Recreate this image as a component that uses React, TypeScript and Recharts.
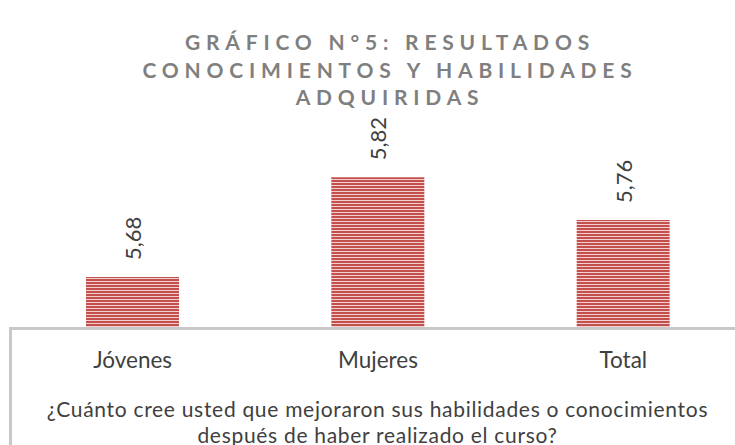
import { BarChart, Bar, XAxis, YAxis, LabelList } from 'recharts'

const categories = ['Jóvenes', 'Mujeres', 'Total']
const scores = [5.68, 5.82, 5.76]
const titleLines = ['GRÁFICO N°5: RESULTADOS', 'CONOCIMIENTOS Y HABILIDADES', 'ADQUIRIDAS']
const axisTitle = [
  '¿Cuánto cree usted que mejoraron sus habilidades o conocimientos',
  'después de haber realizado el curso?'
]

const data = categories.map((name, i) => ({ name, value: scores[i] }))

const FONT = 'Lato, sans-serif'

function ValueLabel(props: any) {
  const { x, y, width, value } = props
  const cx = x + width / 2
  const ty = y - 17
  return (
    <text
      x={cx}
      y={ty}
      transform={`rotate(-90, ${cx}, ${ty})`}
      textAnchor="start"
      dominantBaseline="central"
      fill="#404040"
      fontSize={22}
      fontFamily={FONT}
    >
      {Number(value).toFixed(2).replace('.', ',')}
    </text>
  )
}

function CategoryTick(props: any) {
  const { x, y, payload } = props
  return (
    <text x={x} y={y + 24} textAnchor="middle" dominantBaseline="central" fill="#404040" fontSize={22.5} fontFamily={FONT}>
      {payload.value}
    </text>
  )
}

export default function App() {
  return (
    <div style={{ position: 'absolute', left: 0, top: 0, width: 735, height: 445, overflow: 'hidden', background: '#fff', fontFamily: FONT }}>
      <div style={{ position: 'absolute', left: 0, top: 28, width: 780, textAlign: 'center', color: '#7f7f7f', fontWeight: 700, fontSize: 21, letterSpacing: 5.8, lineHeight: '27.5px' }}>
        {titleLines.map(t => <div key={t}>{t}</div>)}
      </div>

      <div style={{ position: 'absolute', left: 9, top: 327, width: 800, height: 200, borderTop: '3px solid #c8c8c8', borderLeft: '3px solid #c8c8c8', boxSizing: 'border-box' }} />

      <div style={{ position: 'absolute' }}>
        <BarChart width={746} height={445} data={data} margin={{ top: 113, right: 0, bottom: 78, left: 10 }}>
          <defs>
            <pattern id="stripes" patternUnits="userSpaceOnUse" width={6} height={3}>
              <rect x={0} y={0} width={6} height={3} fill="#f2cfce" />
              <rect x={0} y={0} width={6} height={2} fill="#c4504d" />
            </pattern>
          </defs>
          <XAxis dataKey="name" axisLine={false} tickLine={false} height={40} tick={<CategoryTick />} interval={0} />
          <YAxis hide domain={[5.61, 5.91]} allowDataOverflow />
          <Bar dataKey="value" fill="url(#stripes)" barSize={93} isAnimationActive={false}>
            <LabelList dataKey="value" content={<ValueLabel />} />
          </Bar>
        </BarChart>
      </div>

      <div style={{ position: 'absolute', left: 10, top: 396, width: 735, textAlign: 'center', color: '#404040', fontSize: 21, letterSpacing: 0.7, lineHeight: '25.5px' }}>
        {axisTitle.map(t => <div key={t}>{t}</div>)}
      </div>
    </div>
  )
}
